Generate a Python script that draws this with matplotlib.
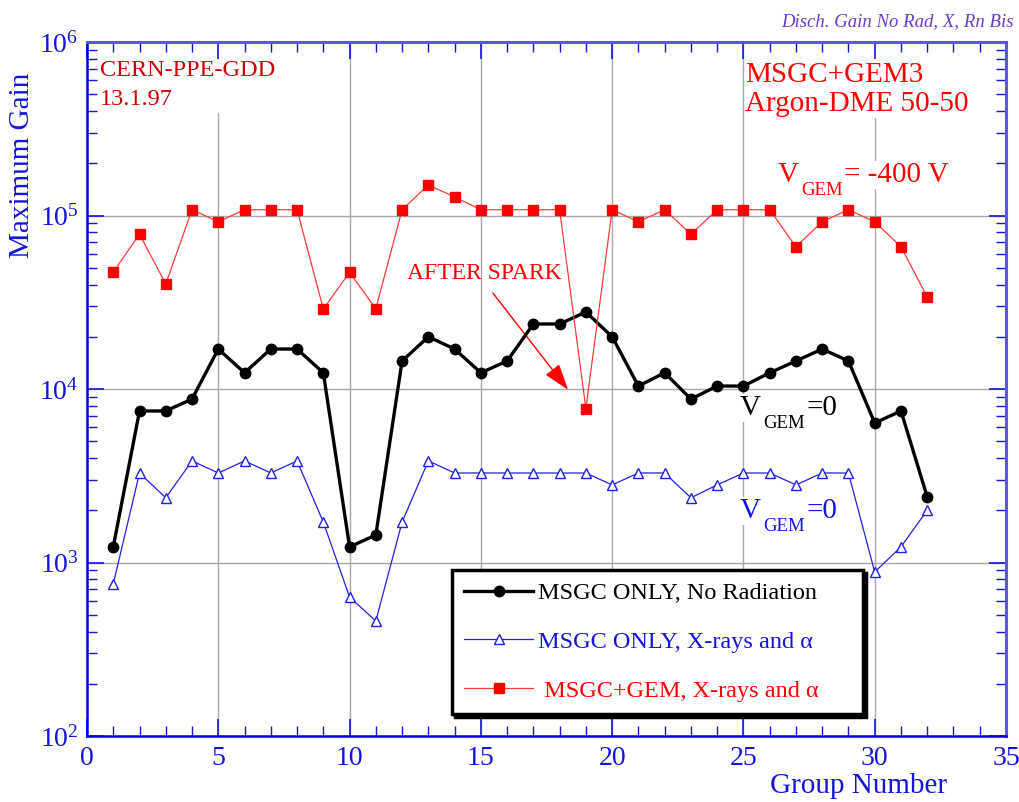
import matplotlib
matplotlib.use("Agg")
from matplotlib import pyplot as plt
from matplotlib.ticker import MultipleLocator, LogLocator, NullFormatter

plt.rcParams['font.family'] = ['Liberation Serif', 'DejaVu Serif']
plt.rcParams['mathtext.fontset'] = 'custom'
plt.rcParams['mathtext.rm'] = 'Liberation Serif'
plt.rcParams['mathtext.it'] = 'Liberation Serif:italic'

groups = list(range(1, 33))

msgc_norad = [1230, 7470, 7470, 8750, 17000, 12400, 17000, 17000, 12400, 1230,
              1440, 14500, 20000, 17000, 12400, 14500, 23700, 23700, 27800, 20000,
              10400, 12400, 8750, 10400, 10400, 12400, 14500, 17000, 14500, 6370,
              7470, 2390]

msgc_xray = [752, 3280, 2360, 3850, 3280, 3850, 3280, 3850, 1710, 632,
             460, 1710, 3850, 3280, 3280, 3280, 3280, 3280, 3280, 2800,
             3280, 3280, 2360, 2800, 3280, 3280, 2800, 3280, 3280, 881,
             1230, 2000]

gem_xray = [47200, 78000, 40300, 108000, 92000, 108000, 108000, 108000, 28900, 47000,
            29000, 108000, 150000, 128000, 108000, 108000, 108000, 108000, 7700, 108000,
            92000, 108000, 78000, 108000, 108000, 108000, 66000, 92000, 108000, 92000,
            66000, 33900]

W, H = 1019, 802
BLUE = '#1414dc'
BLUE_LIGHT = '#5a5ad6'


def P(x, y):
    return (x / W, 1 - y / H)


fig = plt.figure(figsize=(W / 100, H / 100), dpi=100)
ax = fig.add_axes([87 / W, 1 - 736 / H, (1006 - 87) / W, (736 - 42) / H])

ax.set_yscale('log')
ax.set_xlim(0, 35)
ax.set_ylim(1e2, 1e6)

ax.plot(groups, msgc_norad, color='black', lw=2.4, marker='o', ms=7.5,
        label='MSGC ONLY, No Radiation', zorder=4)
ax.plot(groups, msgc_xray, color='#2020e0', lw=0.9, marker='^', ms=7.5,
        mfc='white', mec='#2020e0', mew=1.0,
        label='MSGC ONLY, X-rays and α', zorder=4)
ax.plot(groups, gem_xray, color='#ff3a3a', lw=0.9, marker='s', ms=7.5,
        mfc='#ff0000', mec='#ff0000',
        label=' MSGC+GEM, X-rays and α', zorder=4)

# grid
ax.set_axisbelow(True)
ax.yaxis.grid(True, which='major', color='#a8a8a8', lw=1.0)
for gx in [5, 10, 15, 20, 25, 30]:
    top = 1.0
    if gx == 5:
        top = (736 - 113) / 694
    if gx == 30:
        top = (736 - 118) / 694
    ax.axvline(gx, 0, top, color='#a8a8a8', lw=1.0, zorder=0.5)

# ticks
ax.xaxis.set_major_locator(MultipleLocator(5))
ax.xaxis.set_minor_locator(MultipleLocator(1))
ax.yaxis.set_major_locator(LogLocator(base=10, numticks=10))
ax.yaxis.set_minor_locator(LogLocator(base=10, subs=range(2, 10), numticks=20))
ax.yaxis.set_minor_formatter(NullFormatter())
ax.tick_params(which='both', direction='in', top=True, right=True,
               color=BLUE, labelcolor=BLUE, labelsize=20)
ax.tick_params(which='major', length=12, width=1.2, pad=7)
ax.tick_params(which='minor', length=7, width=1.0)
ax.tick_params(axis='y', which='major', pad=6)

for side in ['left', 'bottom']:
    ax.spines[side].set_color('#0000e6')
    ax.spines[side].set_linewidth(1.8)
for side in ['top', 'right']:
    ax.spines[side].set_color(BLUE_LIGHT)
    ax.spines[side].set_linewidth(2.2)

# axis titles
fig.text(*P(22, 165), 'Maximum Gain', rotation=90, color=BLUE, fontsize=21,
         ha='center', va='center')
fig.text(*P(859, 786), 'Group Number', color=BLUE, fontsize=21,
         ha='center', va='center')

# annotations
fig.text(*P(1014, 22), 'Disch. Gain No Rad, X, Rn Bis', color='#6a3ad0',
         fontsize=13.5, style='italic', ha='right', va='center')
ax.text(*P(100, 76), 'CERN-PPE-GDD', transform=fig.transFigure, color='#cc0000',
        fontsize=17.5, va='baseline', zorder=1)
ax.text(*P(100, 105), '13.1.97', transform=fig.transFigure, color='#cc0000',
        fontsize=17.5, va='baseline', zorder=1)
ax.text(*P(745, 82), 'MSGC+GEM3', transform=fig.transFigure, color='#ff0000',
        fontsize=21, va='baseline', zorder=1)
ax.text(*P(745, 111), 'Argon-DME 50-50', transform=fig.transFigure, color='#ff0000',
        fontsize=21, va='baseline', zorder=1)
ax.text(*P(407, 279), 'AFTER SPARK', transform=fig.transFigure, color='#ff0000',
        fontsize=17, va='baseline', zorder=1)

white = dict(facecolor='white', edgecolor='none', pad=0.5)


def vgem(x, y, rest, color):
    ax.text(*P(x, y), 'V', transform=fig.transFigure, color=color, fontsize=21,
            va='baseline', zorder=1, bbox=white)
    ax.text(*P(x + 23, y + 13), 'GEM', transform=fig.transFigure, color=color,
            fontsize=13.5, va='baseline', zorder=1, bbox=white)
    ax.text(*P(x + 66, y), rest, transform=fig.transFigure, color=color,
            fontsize=21, va='baseline', zorder=1, bbox=white)


vgem(778, 182, '= -400 V', '#ff0000')
vgem(740, 415, '=0', 'black')
vgem(740, 518, '=0', '#1414e0')

ax.annotate('', xy=(18.32, 9.9e3), xytext=(15.46, 3.57e4),
            arrowprops=dict(arrowstyle='-|>,head_length=0.9,head_width=0.3',
                            color='#ff0000', lw=1.0, mutation_scale=18,
                            shrinkA=0, shrinkB=0), zorder=3)

leg = ax.legend(loc='upper left',
                bbox_to_anchor=(452 / W, 1 - 713 / H, 411 / W, 143 / H),
                bbox_transform=fig.transFigure, mode='expand',
                fontsize=17.5, frameon=True, fancybox=False, borderaxespad=0,
                borderpad=0.5, labelspacing=1.1, handlelength=2.85,
                handletextpad=0.2,
                shadow={'ox': 2.5, 'oy': -2.5, 'facecolor': 'black',
                        'edgecolor': 'black', 'alpha': 1})
leg.get_frame().set_edgecolor('black')
leg.get_frame().set_linewidth(2.5)
leg.set_zorder(10)
for txt, c in zip(leg.get_texts(), ['black', '#1414e0', '#ff0000']):
    txt.set_color(c)

fig.savefig('out.png', dpi=100)
